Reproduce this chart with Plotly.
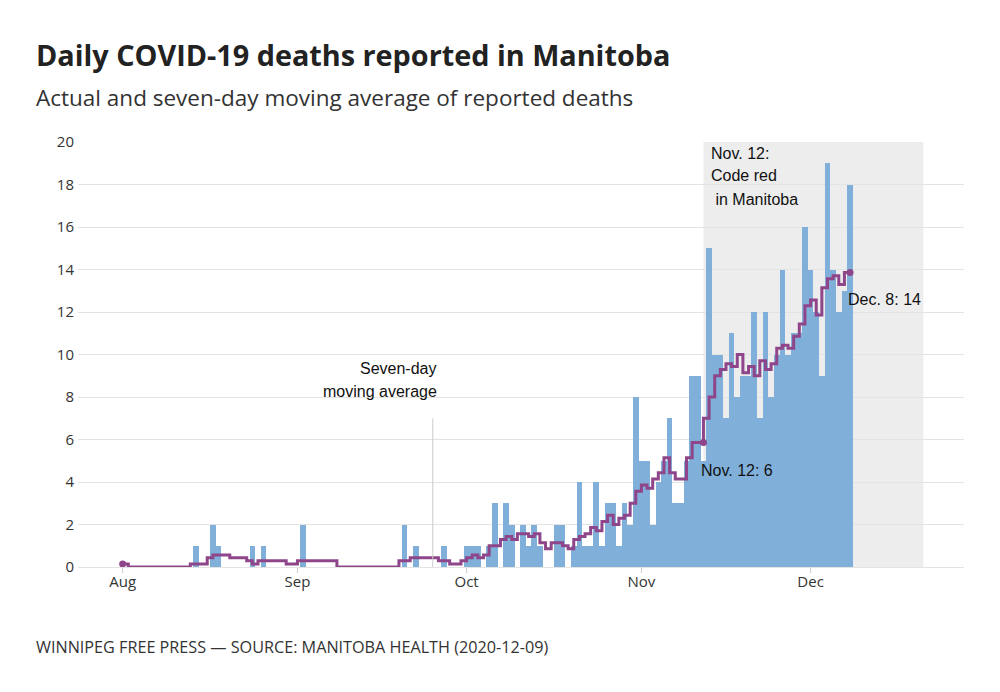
import pandas as pd
import plotly.graph_objects as go

# Daily deaths reported, Aug 1 - Dec 8 2020
deaths_aug = [0, 0, 0, 0, 0, 0, 0, 0, 0, 0, 0, 0, 0, 1, 0, 0, 2, 1, 0, 0, 0, 0, 0, 1, 0, 1, 0, 0, 0, 0, 0]
deaths_sep = [0, 2, 0, 0, 0, 0, 0, 0, 0, 0, 0, 0, 0, 0, 0, 0, 0, 0, 0, 2, 0, 1, 0, 0, 0, 0, 1, 0, 0, 0]
deaths_oct = [1, 1, 1, 0, 1, 3, 0, 3, 2, 0, 2, 1, 2, 1, 0, 0, 2, 2, 0, 1, 4, 1, 1, 4, 1, 3, 3, 1, 3, 2, 8]
deaths_nov = [5, 5, 2, 4, 5, 7, 3, 3, 5, 9, 9, 5, 15, 10, 10, 7, 11, 8, 9, 9, 12, 7, 12, 8, 10, 14, 10, 11, 11, 16]
deaths_dec = [14, 12, 9, 19, 14, 12, 13, 18]

# Seven-day moving average as drawn
avg_aug = [0.14, 0.14, 0, 0, 0, 0, 0, 0, 0, 0, 0, 0, 0, 0.14, 0.14, 0.14, 0.43, 0.57, 0.57, 0.57,
           0.43, 0.43, 0.43, 0.29, 0.14, 0.29, 0.29, 0.29, 0.29, 0.29, 0.14]
avg_sep = [0.14, 0.29, 0.29, 0.29, 0.29, 0.29, 0.29, 0.29, 0, 0, 0, 0, 0, 0, 0, 0, 0, 0, 0,
           0.29, 0.29, 0.43, 0.43, 0.43, 0.43, 0.43, 0.29, 0.29, 0.14, 0.14]
avg_oct = [0.29, 0.43, 0.57, 0.43, 0.57, 1.0, 1.0, 1.29, 1.43, 1.29, 1.57, 1.57, 1.43, 1.57, 1.14,
           0.86, 1.14, 1.14, 1.0, 0.86, 1.29, 1.43, 1.57, 1.86, 1.71, 2.14, 2.43, 2.0, 2.29, 2.43, 3.0]
avg_nov = [3.57, 3.86, 3.71, 4.14, 4.43, 5.14, 4.43, 4.14, 4.14, 5.14, 5.86, 5.86, 7.0, 8.0, 9.0,
           9.29, 9.57, 9.43, 10.0, 9.14, 9.43, 9.0, 9.71, 9.29, 9.57, 10.29, 10.43, 10.29, 10.86, 11.43]
avg_dec = [12.29, 12.57, 11.86, 13.14, 13.57, 13.71, 13.29, 13.86]

deaths = deaths_aug + deaths_sep + deaths_oct + deaths_nov + deaths_dec
avg = avg_aug + avg_sep + avg_oct + avg_nov + avg_dec
dates = pd.date_range("2020-08-01", periods=len(deaths), freq="D")

tick_dates = ["2020-08-01", "2020-09-01", "2020-10-01", "2020-11-01", "2020-12-01"]
tick_labels = ["Aug", "Sep", "Oct", "Nov", "Dec"]

i_nov12 = list(dates).index(pd.Timestamp("2020-11-12"))
key_idx = [0, i_nov12, len(dates) - 1]

BAR = "#80b0d9"
PURPLE = "#8e4589"
ANNOT_FONT = dict(family="Liberation Sans, Arial, sans-serif", size=16, color="#111")

fig = go.Figure()

# Code red period shading
fig.add_shape(type="rect", xref="x", yref="y", x0="2020-11-12", x1="2020-12-21", y0=0, y1=20,
              fillcolor="#ededed", line_width=0, layer="below")

fig.add_trace(go.Bar(x=dates, y=deaths, marker_color=BAR, marker_line_width=0, showlegend=False))

fig.add_trace(go.Scatter(x=dates, y=avg, mode="lines", line=dict(color=PURPLE, width=3, shape="vh"),
                         showlegend=False))
fig.add_trace(go.Scatter(x=[dates[i] for i in key_idx], y=[avg[i] for i in key_idx], mode="markers",
                         marker=dict(color=PURPLE, size=7), showlegend=False))

# pointer line for the moving average label
fig.add_shape(type="line", xref="x", yref="y", x0="2020-09-25", x1="2020-09-25", y0=0, y1=7,
              line=dict(color="#cccccc", width=1))

annotations = [
    dict(x="2020-11-12", y=19.48, text="Nov. 12:", xanchor="left", xshift=6),
    dict(x="2020-11-12", y=18.41, text="Code red", xanchor="left", xshift=6),
    dict(x="2020-11-12", y=17.31, text=" in Manitoba", xanchor="left", xshift=6),
    dict(x="2020-09-25", y=9.32, text="Seven-day", xanchor="right", xshift=6),
    dict(x="2020-09-25", y=8.28, text="moving average", xanchor="right", xshift=6),
    dict(x="2020-11-12", y=4.56, text="Nov. 12: 6", xanchor="left", xshift=-4),
    dict(x="2020-12-08", y=12.57, text="Dec. 8: 14", xanchor="left", xshift=-4),
]
for a in annotations:
    fig.add_annotation(xref="x", yref="y", showarrow=False, yanchor="middle", font=ANNOT_FONT, **a)

# title, subtitle, source line (paper coords over the plot area)
fig.add_annotation(xref="paper", yref="paper", x=-0.0497, y=1.2057, xanchor="left", yanchor="middle",
                   showarrow=False, text="<b>Daily COVID-19 deaths reported in Manitoba</b>",
                   font=dict(family="Open Sans", size=28.8, color="#222"))
fig.add_annotation(xref="paper", yref="paper", x=-0.0497, y=1.1056, xanchor="left", yanchor="middle",
                   showarrow=False, text="Actual and seven-day moving average of reported deaths",
                   font=dict(family="Open Sans", size=22.5, color="#333"))
fig.add_annotation(xref="paper", yref="paper", x=-0.0497, y=-0.1875, xanchor="left", yanchor="middle",
                   showarrow=False, text="WINNIPEG FREE PRESS — SOURCE: MANITOBA HEALTH (2020-12-09)",
                   font=dict(family="Open Sans", size=16.2, color="#333"))

fig.update_layout(
    width=1000, height=692,
    margin=dict(l=78, r=36, t=142, b=125),
    paper_bgcolor="white", plot_bgcolor="rgba(0,0,0,0)",
    bargap=0,
    font=dict(family="Open Sans", color="#333"),
    xaxis=dict(
        type="date",
        range=["2020-07-24 02:00", "2020-12-28 05:00"],
        tickvals=tick_dates, ticktext=tick_labels,
        ticks="outside", ticklen=5, tickcolor="#cccccc",
        ticklabelstandoff=-4,
        showgrid=False, zeroline=False, showline=False,
        tickfont=dict(family="Open Sans", size=15, color="#333"),
    ),
    yaxis=dict(
        range=[0, 20], dtick=2,
        showgrid=True, gridcolor="#e3e3e3", gridwidth=1,
        zeroline=True, zerolinecolor="#e3e3e3", zerolinewidth=1,
        showline=False, ticks="", ticklabelstandoff=3,
        tickfont=dict(family="Open Sans", size=15, color="#333"),
    ),
)

# page body has a default 8px margin; drop it so the figure sits at the window origin
fig.write_html("out.html", config={"displayModeBar": False},
               post_script="document.body.style.margin='0px';")
